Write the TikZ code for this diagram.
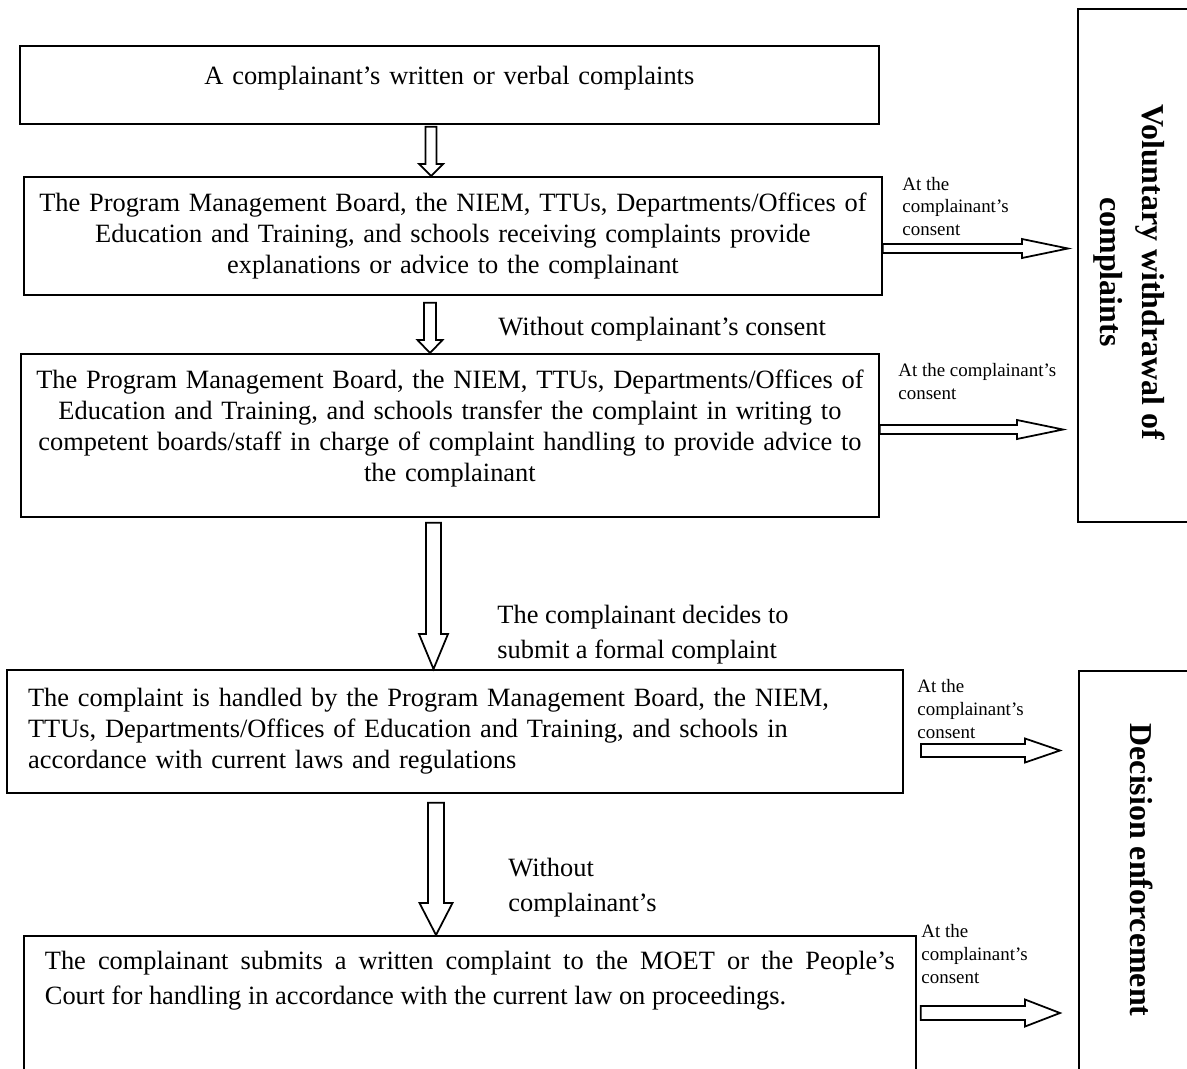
\documentclass[tikz,border=0pt]{standalone}
\usepackage{fontspec}
\setmainfont{Liberation Serif}
\usetikzlibrary{positioning, calc}

% hollow block arrows between boxes
\newcommand{\flowdown}[7]{%
  \coordinate (s) at ($(#1,0 |- #2.south)+(0,#4)$);
  \coordinate (t) at (#1,0 |- #3.north);
  \draw[hollow] ($(s)+(-#5,0)$) -- ($(s)+(#5,0)$) -- ($(t)+(#5,-#7)$) -- ($(t)+(#6,-#7)$) -- (t)
    -- ($(t)+(-#6,-#7)$) -- ($(t)+(-#5,-#7)$) -- cycle;}
\newcommand{\flowright}[8]{%
  \coordinate (s) at ($(#2.east |- 0,#1)+(#4,0)$);
  \coordinate (t) at ($(#3.west |- 0,#1)+(-#5,0)$);
  \draw[hollow] ($(s)+(0,-#6)$) -- ($(t)+(-#8,-#6)$) -- ($(t)+(-#8,-#7)$) -- (t)
    -- ($(t)+(-#8,#7)$) -- ($(t)+(-#8,#6)$) -- ($(s)+(0,#6)$) -- cycle;}

\begin{document}
\begin{tikzpicture}[x=0.4545pt, y=-0.4545pt, line join=miter,
    every node/.style={inner sep=0pt},
    box/.style={draw, line width=0.8pt, anchor=north west, inner xsep=5pt, font=\fontsize{12}{14}\selectfont},
    side/.style={draw, line width=0.8pt, anchor=north west},
    hollow/.style={draw, line width=0.8pt, fill=white},
    note/.style={anchor=west, align=left, font=\fontsize{12}{16}\selectfont},
    small/.style={anchor=west, align=left, font=\fontsize{8.6}{10.3}\selectfont},
    sidetext/.style={rotate=-90, align=center, font=\fontsize{14.5}{19}\selectfont\bfseries}]
    \path[use as bounding box] (0,0) rectangle (1187,1068);
    \clip (0,0) rectangle (1187,1068);

    % Main path
    \node (box1) [box, minimum width=390.4pt, minimum height=35.5pt, text width=380pt, align=center] at (19,45)
        {A complainant’s written or verbal complaints\rule[-9pt]{0pt}{1pt}};
    \node (box2) [box, minimum width=390pt, minimum height=53.6pt, text width=380pt, align=center] at (23,176)
        {The Program Management Board, the NIEM, TTUs, Departments/Offices of\\Education and Training, and schools receiving complaints provide\\explanations or advice to the complainant};
    \node (box3) [box, minimum width=390pt, minimum height=74.1pt, text width=380pt, align=center] at (20,353)
        {The Program Management Board, the NIEM, TTUs, Departments/Offices of\\Education and Training, and schools transfer the complaint in writing to\\competent boards/staff in charge of complaint handling to provide advice to\\the complainant\rule[-9pt]{0pt}{1pt}};
    \node (box4) [box, minimum width=407.3pt, minimum height=55.9pt, inner xsep=9.5pt, text width=388pt, align=left] at (6,669)
        {The complaint is handled by the Program Management Board, the NIEM,\\TTUs, Departments/Offices of Education and Training, and schools in\\accordance with current laws and regulations};
    \node (box5) [box, minimum width=405.4pt, inner xsep=9.5pt, inner ysep=7pt, text width=386.3pt, align=justify, font=\fontsize{12}{16}\selectfont] at (23,935)
        {The complainant submits a written complaint to the MOET or the People’s\linebreak Court for handling in accordance with the current law on proceedings.\rule[-80pt]{0pt}{1pt}};

    % Outcome boxes
    \node (vol) [side, minimum width=55.9pt, minimum height=233.2pt] at (1077,8) {};
    \node (voltext) [sidetext] at (1129,272) {Voluntary withdrawal of\\complaints};
    \node (dec) [side, minimum width=55.5pt, minimum height=195.4pt] at (1078,670) {};
    \node (dectext) [sidetext] at (1142,870) {Decision enforcement};

    % Labels
    \node (nocons) [note] at (498,329) {Without complainant’s consent};
    \node (formal) [note] at (497,634.5) {The complainant decides to\\submit a formal complaint};
    \node (nocons2) [note] at (508,887.5) {Without\\complainant’s};
    \node (agree1) [small] at (902,206.5) {At the\\complainant’s\\consent};
    \node (agree2) [small] at (898,381.5) {At the complainant’s\\consent};
    \node (agree3) [small] at (917,709) {At the\\complainant’s\\consent};
    \node (agree4) [small] at (921,954) {At the\\complainant’s\\consent};

    % Block arrows
    \flowdown{431}{box1}{box2}{2}{5.5}{12}{12}
    \flowdown{430}{box2}{box3}{7}{6}{12.5}{13}
    \flowdown{433.5}{box3}{box4}{5}{7.5}{14.5}{35}
    \flowdown{436}{box4}{box5}{9}{8}{16.5}{32}
    \flowright{248.5}{box2}{vol}{0}{9}{4.5}{9.5}{46}
    \flowright{429.5}{box3}{vol}{0}{14}{4.5}{9.5}{46}
    \flowright{750.5}{box4}{dec}{17}{18}{6.5}{12}{35}
    \flowright{1013}{box5}{dec}{4}{18}{7}{13.5}{35}
\end{tikzpicture}
\end{document}
